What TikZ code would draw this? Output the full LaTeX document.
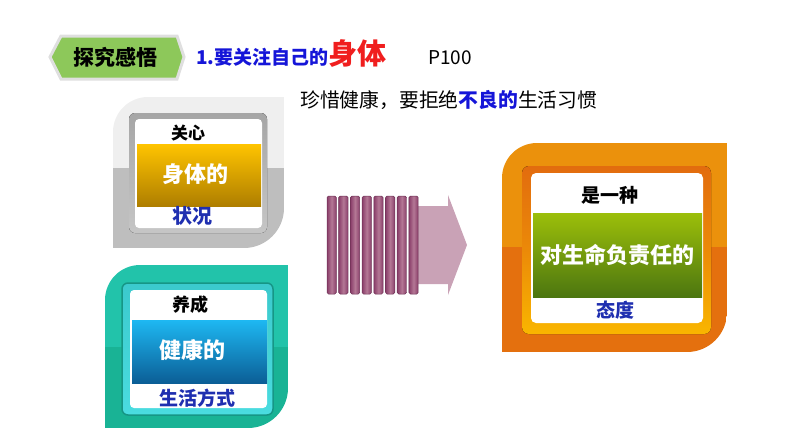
\documentclass[tikz,border=0pt]{standalone}
\usepackage{fontspec}
\newfontfamily\cjk{Noto Sans CJK SC}
\definecolor{grayTop}{HTML}{EFEFEF}
\definecolor{grayBot}{HTML}{BEBEBE}
\definecolor{tealTop}{HTML}{22C3AA}
\definecolor{tealBot}{HTML}{19B395}
\definecolor{orangeTop}{HTML}{EB910C}
\definecolor{orangeBot}{HTML}{E4700E}
\definecolor{tagGreen}{HTML}{8DC85A}
\definecolor{titleBlue}{HTML}{1515D8}
\definecolor{titleRed}{HTML}{F01E1E}
\definecolor{wordBlue}{HTML}{1F2FB0}
\definecolor{barDark}{HTML}{8A3E6A}
\definecolor{barLight}{HTML}{B47895}
\definecolor{arrowPink}{HTML}{C9A2B6}
\definecolor{goldTop}{HTML}{FFC400}
\definecolor{goldBot}{HTML}{AE7E00}
\definecolor{skyTop}{HTML}{1EB8F2}
\definecolor{skyBot}{HTML}{0B5E96}
\definecolor{oliveTop}{HTML}{9CBF0A}
\definecolor{oliveBot}{HTML}{4C7610}
\definecolor{ringOrange}{HTML}{E26C0E}
\definecolor{ringYellow}{HTML}{F9B600}
\definecolor{ringTeal}{HTML}{169686}
\definecolor{ringCyan}{HTML}{4ADCE0}
\begin{document}
\begin{tikzpicture}[x=1pt, y=1pt,
  cn/.style={font=\cjk\bfseries\fontsize{#1}{#1}\selectfont, inner sep=0pt},
  cn/.default=19]
  \useasboundingbox (0,0) rectangle (794,-447);
  % Draw the outer cards, two tones each
  \foreach \l/\t/\r/\b/\s/\ca/\cb in {113/97/284/248/168/grayTop/grayBot,
      105/265/288/428/347/tealTop/tealBot,
      502/143/727/352/247/orangeTop/orangeBot} {
    \begin{scope}
      \clip ({\l},{-\b}) -- ({\l},{-\t-35}) arc[start angle=180, end angle=90, radius=35]
        -- ({\r},{-\t}) -- ({\r},{-\b+40}) arc[start angle=0, end angle=-90, radius=40] -- cycle;
      \fill[\ca] ({\l},{-\t}) rectangle ({\r},{-\s});
      \fill[\cb] ({\l},{-\s}) rectangle ({\r},{-\b});
    \end{scope}
  }
  % Inner frames
  \fill[rounded corners=6pt, top color=gray!70, bottom color=gray!45] (129,-113) rectangle (267,-233);
  \fill[white, rounded corners=4pt] (135,-119) rectangle (262,-228);
  \shade[top color=goldTop, bottom color=goldBot] (137,-144) rectangle (261,-206);
  \draw[rounded corners=6pt, draw=ringTeal, line width=1.5pt, top color=ringCyan!80!teal, bottom color=ringCyan] (122,-283) rectangle (273,-415);
  \fill[white, rounded corners=4pt] (130,-290) rectangle (267,-408);
  \shade[top color=skyTop, bottom color=skyBot] (132,-320) rectangle (267,-383);
  \fill[rounded corners=7pt, top color=ringOrange, bottom color=ringYellow, middle color=ringOrange!60!ringYellow] (522,-166) rectangle (711,-334);
  \fill[white, rounded corners=5pt] (531,-173) rectangle (703,-323);
  \shade[top color=oliveTop, bottom color=oliveBot] (533,-213) rectangle (702,-297);
  % Tag and heading
  \draw[line width=3pt, draw=gray!25, fill=tagGreen] (50,-57) -- (61,-36) -- (177,-36) -- (184,-57) -- (177,-79) -- (61,-79) -- cycle;
  \node[cn=21] (tag) at (115,-57) {探究感悟};
  \node[cn=19, anchor=base west, text=titleBlue] (title) at (196,-64) {1.要关注自己的\textcolor{titleRed}{\fontsize{29}{29}\selectfont 身体}};
  \node[font=\cjk\fontsize{19}{19}\selectfont, anchor=base west, inner sep=0pt] (page) at (428,-64) {P100};
  \node[font=\cjk\fontsize{19.8}{20}\selectfont, anchor=base west, inner sep=0pt] (hint) at (300,-107)
    {珍惜健康，要拒绝\textcolor{titleBlue}{\bfseries 不良的}生活习惯};
  % Card texts
  \node[cn=17] (care) at (188,-133) {关心};
  \node[cn=22, text=white] (body) at (195,-174) {身体的};
  \node[cn=20, text=wordBlue] (state) at (192,-216) {状况};
  \node[cn=18] (form) at (190,-305) {养成};
  \node[cn=22, text=white] (health) at (192,-350) {健康的};
  \node[cn=19, text=wordBlue] (life) at (197,-398) {生活方式};
  \node[cn=19] (is) at (610,-195) {是一种};
  \node[cn=22, text=white] (resp) at (617,-255) {对生命负责任的};
  \node[cn=19, text=wordBlue] (attitude) at (615,-310) {态度};
  % Draw the striped arrow
  \fill[arrowPink] (410,-206) -- (448,-206) -- (448,-195) -- (467,-245) -- (448,-295) -- (448,-284) -- (410,-284) -- cycle;
  \foreach \i in {0,...,7} {
    \draw[barDark!80!black, line width=0.5pt, rounded corners=1.5pt, left color=barDark, right color=barDark, middle color=barLight]
      ({327+\i*11.7},-196) rectangle ({336.3+\i*11.7},-294);
  }
\end{tikzpicture}
\end{document}
